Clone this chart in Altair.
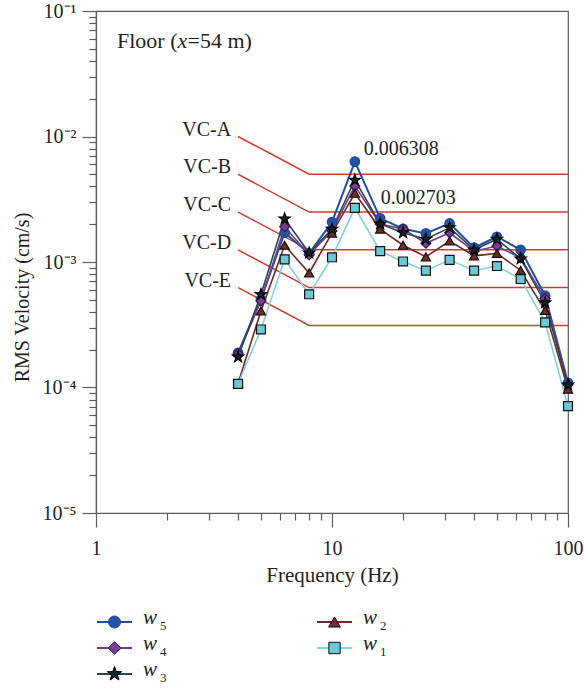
import altair as alt
import pandas as pd

# ---------------- data ----------------
freq = [4, 5, 6.3, 8, 10, 12.5, 16, 20, 25, 31.5, 40, 50, 63, 80, 100]

w5 = [1.89e-4, 5.05e-4, 1.71e-3, 1.17e-3, 2.08e-3, 6.308e-3, 2.23e-3, 1.84e-3,
      1.69e-3, 2.03e-3, 1.30e-3, 1.59e-3, 1.25e-3, 5.39e-4, 1.09e-4]
w4 = [1.85e-4, 4.90e-4, 1.91e-3, 1.14e-3, 1.77e-3, 4.03e-3, 2.01e-3, 1.83e-3,
      1.41e-3, 1.71e-3, 1.22e-3, 1.34e-3, 1.08e-3, 5.10e-4, 1.05e-4]
w3 = [1.75e-4, 5.51e-4, 2.21e-3, 1.18e-3, 1.83e-3, 4.50e-3, 2.01e-3, 1.71e-3,
      1.52e-3, 1.88e-3, 1.25e-3, 1.52e-3, 1.06e-3, 4.74e-4, 1.05e-4]
w2 = [1.08e-4, 4.07e-4, 1.36e-3, 8.17e-4, 1.70e-3, 3.53e-3, 1.83e-3, 1.36e-3,
      1.10e-3, 1.47e-3, 1.12e-3, 1.17e-3, 8.56e-4, 4.11e-4, 9.70e-5]
w1 = [1.07e-4, 2.90e-4, 1.05e-3, 5.53e-4, 1.09e-3, 2.703e-3, 1.22e-3, 1.01e-3,
      8.53e-4, 1.04e-3, 8.53e-4, 9.29e-4, 7.32e-4, 3.30e-4, 7.10e-5]

series_names = ["w5", "w4", "w2", "w1", "w3"]          # drawing order
series_values = {"w5": w5, "w4": w4, "w3": w3, "w2": w2, "w1": w1}

vc_names = ["VC-A", "VC-B", "VC-C", "VC-D", "VC-E"]
vc_freq = [4, 8, 100]
vc_at_4hz = [0.01, 0.005, 0.0025, 0.00125, 0.000625]
vc_flat = [0.005, 0.0025, 0.00125, 0.000625, 0.0003125]

peak_freq = [12.5, 12.5]
peak_value = [0.006308, 0.002703]
peak_text = ["0.006308", "0.002703"]

x_ticks = [1, 2, 3, 4, 5, 6, 7, 8, 9, 10, 20, 30, 40, 50, 60, 70, 80, 90, 100]
y_ticks = [m * 10.0 ** e for e in range(-5, -1) for m in range(1, 10)] + [0.1]

legend_rows = [("w5", 0, 0), ("w4", 0, 1), ("w3", 0, 2), ("w2", 1, 0), ("w1", 1, 1)]

# ---------------- styles ----------------
FONT = "Liberation Serif"
TXT = "#231f20"
RED = "#d8392f"
AX = "#5a5a5a"

STAR = ("M0,-1L0.235,-0.324L0.951,-0.309L0.38,0.124L0.588,0.809L0,0.4"
        "L-0.588,0.809L-0.38,0.124L-0.951,-0.309L-0.235,-0.324Z")

style = {
    "w5": dict(line="#1f4fa0", fill="#2152a3", stroke="#1f4a96", shape="circle", size=90, lw=2.0),
    "w4": dict(line="#7b3a97", fill="#7d3c98", stroke="#3a1a4a", shape="diamond", size=100, lw=1.6),
    "w3": dict(line="#2c4646", fill="#0b2727", stroke="#000000", shape=STAR, size=140, lw=1.6),
    "w2": dict(line="#6b2b28", fill="#6e2d2a", stroke="#1a0a0a", shape="triangle-up", size=85, lw=1.6),
    "w1": dict(line="#84d1dc", fill="#6cc8d6", stroke="#111111", shape="square", size=80, lw=1.6),
}

major = "abs(log(datum.value)/LN10 - round(log(datum.value)/LN10)) < 0.001"

xscale = alt.Scale(type="log", domain=[1, 100], nice=False)
yscale = alt.Scale(type="log", domain=[1e-5, 1e-1], nice=False)

xaxis = alt.Axis(
    values=x_ticks,
    labelExpr=major + " ? format(datum.value, 'd') : ''",
    tickSize={"condition": {"test": major, "value": 14}, "value": 7},
    tickColor=AX, tickWidth=1.2, domainColor=AX, domainWidth=1.2,
    grid=False, labelFont=FONT, labelFontSize=20, labelColor=TXT,
    labelPadding=11, labelFlush=False, labelOverlap=False,
    title="Frequency (Hz)", titleFont=FONT, titleFontSize=21,
    titleFontWeight="normal", titleColor=TXT, titlePadding=6,
)
yaxis = alt.Axis(
    values=y_ticks,
    labelExpr=major + " ? '10' + ['\u2070','\u207b\u00b9','\u207b\u00b2','\u207b\u00b3','\u207b\u2074','\u207b\u2075'][-round(log(datum.value)/LN10)] : ''",
    tickSize={"condition": {"test": major, "value": 14}, "value": 7},
    tickColor=AX, tickWidth=1.2, domainColor=AX, domainWidth=1.2,
    grid=False, labelFont=FONT, labelFontSize=20, labelColor=TXT,
    labelPadding=6, labelFlush=False, labelOverlap=False,
    title="RMS Velocity (cm/s)", titleFont=FONT, titleFontSize=20,
    titleFontWeight="normal", titleColor=TXT, titlePadding=10, titleY=286,
)

# ---------------- tables ----------------
vc_rows = []
for n, hi, lo in zip(vc_names, vc_at_4hz, vc_flat):
    for f, v in zip(vc_freq, [hi, lo, lo]):
        vc_rows.append({"name": n, "f": f, "v": v})
vc_df = pd.DataFrame(vc_rows)
vc_lab = pd.DataFrame({"name": vc_names, "f": [vc_freq[0]] * 5, "v": vc_at_4hz})

layers = []
layers.append(
    alt.Chart(vc_df).mark_line(color=RED, strokeWidth=1.5).encode(
        x=alt.X("f:Q", scale=xscale, axis=xaxis),
        y=alt.Y("v:Q", scale=yscale, axis=yaxis),
        detail="name:N",
    )
)
layers.append(
    alt.Chart(vc_lab).mark_text(align="right", baseline="alphabetic", dx=-7, dy=-1,
                                font=FONT, fontSize=20, color=TXT).encode(
        x=alt.X("f:Q", scale=xscale), y=alt.Y("v:Q", scale=yscale), text="name:N")
)

for name in series_names:
    st = style[name]
    d = pd.DataFrame({"f": freq, "v": series_values[name]})
    layers.append(
        alt.Chart(d).mark_line(color=st["line"], strokeWidth=st["lw"]).encode(
            x=alt.X("f:Q", scale=xscale), y=alt.Y("v:Q", scale=yscale))
    )
for name in series_names:
    st = style[name]
    d = pd.DataFrame({"f": freq, "v": series_values[name]})
    layers.append(
        alt.Chart(d).mark_point(filled=True, shape=st["shape"], size=st["size"],
                                fill=st["fill"], stroke=st["stroke"], strokeWidth=1.2,
                                opacity=1).encode(
            x=alt.X("f:Q", scale=xscale), y=alt.Y("v:Q", scale=yscale))
    )

pk = pd.DataFrame({"f": peak_freq, "v": peak_value, "t": peak_text})
layers.append(
    alt.Chart(pk.iloc[[0]]).mark_text(align="left", baseline="alphabetic", dx=9, dy=-7,
                                      font=FONT, fontSize=20, color=TXT).encode(
        x=alt.X("f:Q", scale=xscale), y=alt.Y("v:Q", scale=yscale), text="t:N")
)
layers.append(
    alt.Chart(pk.iloc[[1]]).mark_text(align="left", baseline="alphabetic", dx=26, dy=-4,
                                      font=FONT, fontSize=20, color=TXT).encode(
        x=alt.X("f:Q", scale=xscale), y=alt.Y("v:Q", scale=yscale), text="t:N")
)

# panel label "Floor (x=54 m)"
floor_parts = [("Floor (", "normal", 21), ("x", "italic", 81.5), ("=54 m)", "normal", 91.5)]
for txt, fst, px in floor_parts:
    layers.append(
        alt.Chart(pd.DataFrame({"t": [txt]})).mark_text(
            align="left", baseline="alphabetic", font=FONT, fontSize=22,
            fontStyle=fst, color=TXT).encode(
            x=alt.value(px), y=alt.value(37), text="t:N")
    )

main = alt.layer(*layers).properties(
    width=472, height=502,
    view=alt.ViewBackground(stroke=AX, strokeWidth=1.2),
)

# ---------------- custom legend ----------------
lx = alt.Scale(domain=[0, 472], nice=False, zero=False)
ly = alt.Scale(type="point", domain=[0, 1, 2], padding=0.5)
leg_layers = []
for name, col, row in legend_rows:
    st = style[name]
    x0 = 1 + 220 * col
    d = pd.DataFrame({"x0": [x0], "x1": [x0 + 35], "xm": [x0 + 17.5],
                      "xt": [x0 + 46], "xs": [x0 + 63], "row": [row],
                      "w": ["w"], "sub": [name[1]]})
    leg_layers.append(
        alt.Chart(d).mark_rule(color=st["line"], strokeWidth=2).encode(
            x=alt.X("x0:Q", scale=lx, axis=None), x2="x1:Q",
            y=alt.Y("row:O", scale=ly, axis=None))
    )
    leg_layers.append(
        alt.Chart(d).mark_point(filled=True, shape=st["shape"], size=st["size"] * 1.6,
                                fill=st["fill"], stroke=st["stroke"], strokeWidth=1.0,
                                opacity=1).encode(
            x=alt.X("xm:Q", scale=lx, axis=None), y=alt.Y("row:O", scale=ly, axis=None))
    )
    leg_layers.append(
        alt.Chart(d).mark_text(align="left", baseline="alphabetic", dy=2, font=FONT,
                               fontSize=21, fontStyle="italic", color=TXT).encode(
            x=alt.X("xt:Q", scale=lx, axis=None), y=alt.Y("row:O", scale=ly, axis=None),
            text="w:N")
    )
    leg_layers.append(
        alt.Chart(d).mark_text(align="left", baseline="alphabetic", dy=8, font=FONT,
                               fontSize=13, color=TXT).encode(
            x=alt.X("xs:Q", scale=lx, axis=None), y=alt.Y("row:O", scale=ly, axis=None),
            text="sub:N")
    )

legend = alt.layer(*leg_layers).properties(width=472, height=78)

chart = alt.vconcat(main, legend, spacing=21).properties(
    padding={"left": 11, "top": 0, "right": 0, "bottom": 0}
).configure_view(stroke=None)

chart.save("out.html", embed_options={"renderer": "svg", "actions": False})
